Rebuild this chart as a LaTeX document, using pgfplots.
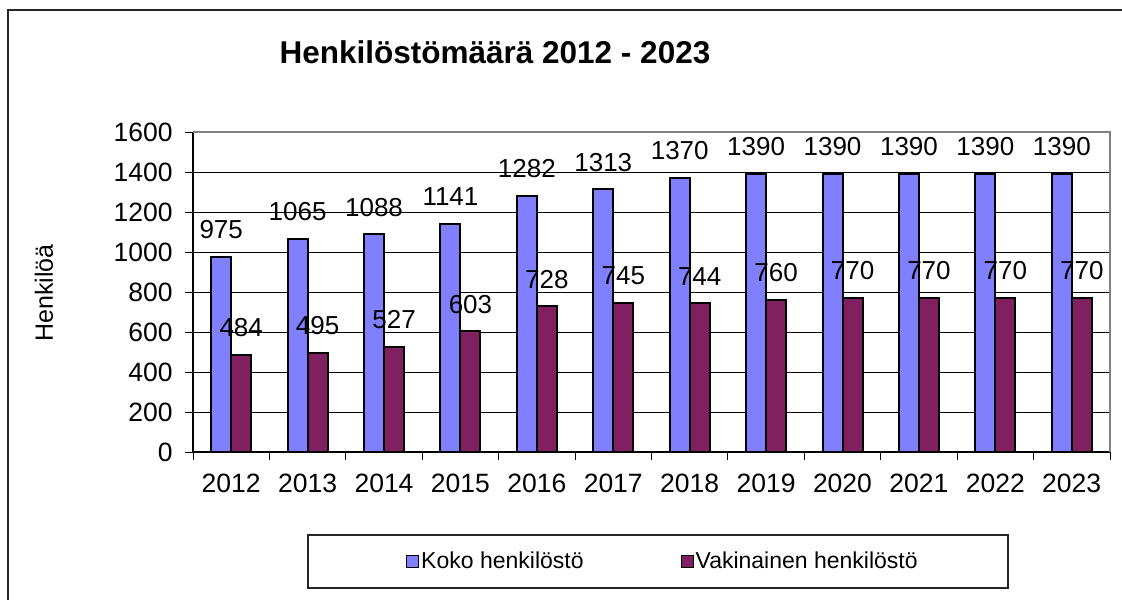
\documentclass[border=0pt]{standalone}
\usepackage{pgfplots}
\pgfplotsset{compat=1.18}
\usepackage{fontspec}
\setmainfont{Liberation Sans}
\definecolor{kokoblue}{RGB}{128,128,255}
\definecolor{vakpurple}{RGB}{128,32,96}
\definecolor{bordergray}{RGB}{128,128,128}
\begin{document}
\begin{tikzpicture}
\path[use as bounding box] (0bp,0bp) rectangle (1122bp,-600bp);
\draw[line width=1.5bp, black!85] (8bp,-600bp) -- (8bp,-10bp) -- (1122bp,-10bp);
\node[font=\bfseries\fontsize{31.5bp}{36bp}\selectfont] at (495bp,-52bp) {Henkilöstömäärä 2012 - 2023};
\node[rotate=90, font=\fontsize{25bp}{30bp}\selectfont] at (44bp,-293bp) {Henkilöä};
\draw[line width=1.2bp, black!85] (308bp,-535bp) rectangle (1008bp,-588bp);
\begin{axis}[
  at={(193bp,-452bp)}, anchor=south west,
  scale only axis, width=917bp, height=320bp,
  ybar=0pt, bar width=20bp,
  xmin=2011.5, xmax=2023.5,
  ymin=0, ymax=1600,
  ytick={0,200,...,1600},
  xtick={2012,...,2023},
  minor xtick={2011.5,2012.5,...,2023.5},
  axis lines=left,
  axis line style={-, line width=1.2bp, black},
  tick align=outside,
  major tick length=8bp,
  minor tick length=8bp,
  every major x tick/.append style={draw=none},
  every tick/.append style={line width=1bp, black},
  ymajorgrids=true,
  grid style={line width=1bp, black},
  /pgf/number format/assume math mode=true,
  /pgf/number format/1000 sep={},
  tick label style={font=\fontsize{26.5bp}{31bp}\selectfont},
  yticklabel style={xshift=-9bp},
  xticklabel style={yshift=-10bp},
  nodes near coords,
  every node near coord/.append style={font=\fontsize{26bp}{31bp}\selectfont, anchor=south, inner sep=0pt, yshift=17bp, black},
  legend columns=2,
  legend style={draw=none, fill=none, at={(axis description cs:0.5125,-0.3406)}, anchor=center,
    font=\fontsize{23bp}{28bp}\selectfont,
    /tikz/every even column/.append style={column sep=95bp},
    nodes={inner sep=2bp}},
  legend image code/.code={\draw[#1, line width=1bp] (0bp,-6bp) rectangle (12bp,6bp);},
  clip=false,
]
\addplot[fill=kokoblue, draw=black, line width=2bp] coordinates {
(2012,975) (2013,1065) (2014,1088) (2015,1141) (2016,1282) (2017,1313)
(2018,1370) (2019,1390) (2020,1390) (2021,1390) (2022,1390) (2023,1390)};
\addplot[fill=vakpurple, draw=black, line width=2bp] coordinates {
(2012,484) (2013,495) (2014,527) (2015,603) (2016,728) (2017,745)
(2018,744) (2019,760) (2020,770) (2021,770) (2022,770) (2023,770)};
\legend{Koko henkilöstö, Vakinainen henkilöstö}
\draw[bordergray, line width=1.2bp] (rel axis cs:0,1) -- (rel axis cs:1,1) -- (rel axis cs:1,0);
\end{axis}
\end{tikzpicture}
\end{document}
